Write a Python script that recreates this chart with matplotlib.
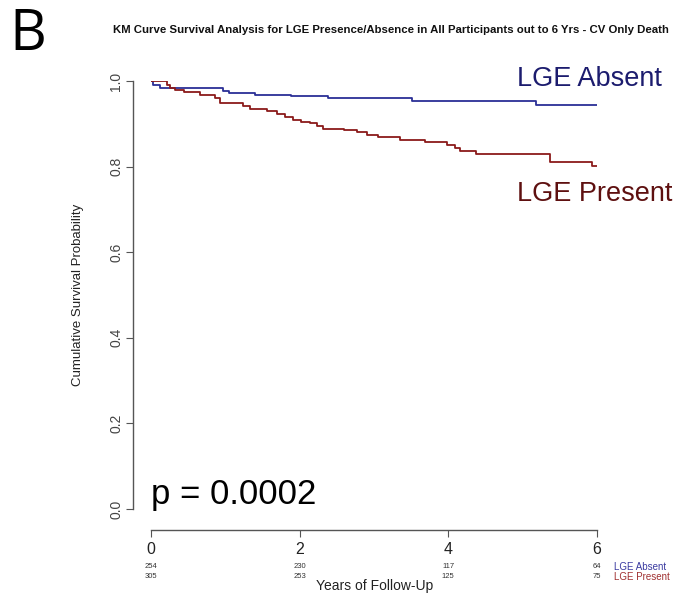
import numpy as np
import matplotlib.pyplot as plt
import matplotlib.transforms as mtransforms

plt.rcParams['font.family'] = ['Liberation Sans', 'DejaVu Sans']

# Kaplan-Meier step estimates (time in years, survival probability)
absent_t = [0.0, 0.03, 0.12, 0.97, 1.05, 1.40, 1.89, 2.38, 3.51, 5.18, 6.0]
absent_s = [1.0, 0.991, 0.984, 0.976, 0.972, 0.968, 0.964, 0.960, 0.953, 0.943, 0.943]

present_t = [0.0, 0.21, 0.25, 0.32, 0.45, 0.66, 0.86, 0.93, 1.24, 1.33, 1.56, 1.69,
             1.80, 1.91, 2.02, 2.14, 2.23, 2.32, 2.59, 2.77, 2.90, 3.06, 3.35, 3.69,
             3.98, 4.09, 4.16, 4.37, 5.37, 5.93, 6.0]
present_s = [1.0, 0.99, 0.984, 0.978, 0.974, 0.968, 0.960, 0.949, 0.941, 0.934, 0.930, 0.922,
             0.916, 0.910, 0.905, 0.901, 0.895, 0.889, 0.885, 0.881, 0.874, 0.868, 0.863, 0.858,
             0.850, 0.843, 0.837, 0.829, 0.811, 0.801, 0.801]

risk_times = [0, 2, 4, 6]
risk_absent = [254, 230, 117, 64]
risk_present = [305, 253, 125, 75]

blue = '#2b2f96'
red = '#8b1a1a'
blue_txt = '#1c1c6e'
red_txt = '#5e1010'

W, H = 700, 603
fig = plt.figure(figsize=(W / 100, H / 100), dpi=100)
ax = fig.add_axes([151 / W, 1 - 509 / H, (597 - 151) / W, (509 - 81) / H])

ax.step(absent_t, absent_s, where='post', color=blue, lw=1.3)
ax.step(present_t, present_s, where='post', color=red, lw=1.3)

ax.set_xlim(0, 6)
ax.set_ylim(0, 1)

# R-style detached axes
for side in ['top', 'right']:
    ax.spines[side].set_visible(False)
ax.spines['left'].set_position(('outward', 13))
ax.spines['bottom'].set_position(('outward', 15))
ax.spines['left'].set_bounds(0, 1)
ax.spines['bottom'].set_bounds(0, 6)
for side in ['left', 'bottom']:
    ax.spines[side].set_color('#555555')
    ax.spines[side].set_linewidth(1.0)

ax.set_yticks([0, 0.2, 0.4, 0.6, 0.8, 1.0])
ax.set_yticklabels(['0.0', '0.2', '0.4', '0.6', '0.8', '1.0'], rotation=90, va='center')
ax.set_xticks(risk_times)
ax.tick_params(axis='y', length=5, color='#555555', labelsize=10, labelcolor='#444444', pad=2)
ax.tick_params(axis='x', length=5, color='#555555', labelsize=11.5, labelcolor='#222222', pad=4)

ax.set_ylabel('Cumulative Survival Probability', fontsize=9.5, color='#222222', labelpad=18)

ax.text(4.93, 1.005, 'LGE Absent', color=blue_txt, fontsize=19.5, va='center', ha='left')
ax.text(4.93, 0.735, 'LGE Present', color=red_txt, fontsize=19.5, va='center', ha='left')
ax.text(0.0, 0.035, 'p = 0.0002', color='black', fontsize=25, va='center', ha='left')

# numbers at risk under the x axis
trans = mtransforms.blended_transform_factory(ax.transData, fig.transFigure)
for t, a, p in zip(risk_times, risk_absent, risk_present):
    ax.text(t, 1 - 567 / H, str(a), transform=trans, fontsize=5.5, ha='center', va='center', color='#333333')
    ax.text(t, 1 - 576 / H, str(p), transform=trans, fontsize=5.5, ha='center', va='center', color='#333333')
fig.text(614 / W, 1 - 567 / H, 'LGE Absent', fontsize=7, color='#3a3aa0', va='center')
fig.text(614 / W, 1 - 577 / H, 'LGE Present', fontsize=7, color='#a03030', va='center')
fig.text(375 / W, 1 - 586 / H, 'Years of Follow-Up', fontsize=10, ha='center', va='center', color='#222222')

fig.text(391 / W, 1 - 30 / H, 'KM Curve Survival Analysis for LGE Presence/Absence in All Participants out to 6 Yrs - CV Only Death',
         fontsize=8.2, fontweight='bold', ha='center', va='center', color='#111111')
fig.text(9 / W, 1 - 35 / H, 'B', fontsize=41, ha='left', va='center', family=['Open Sans', 'DejaVu Sans'])

fig.savefig('out.png', dpi=100)
